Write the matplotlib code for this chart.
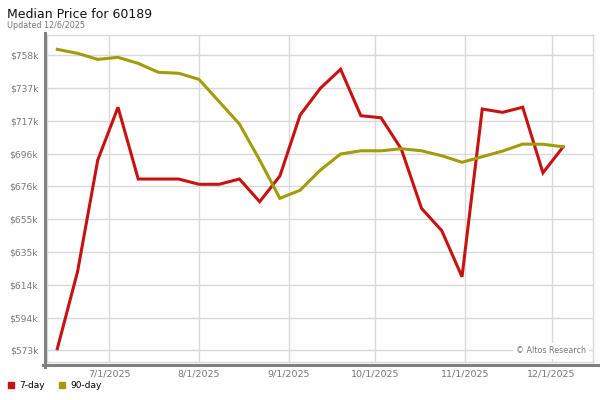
import matplotlib
matplotlib.use('Agg')
import matplotlib.pyplot as plt
from matplotlib.lines import Line2D
import pandas as pd

# weekly sample dates
dates = pd.to_datetime([
    '2025-06-13', '2025-06-20', '2025-06-27', '2025-07-04', '2025-07-11', '2025-07-18',
    '2025-07-25', '2025-08-01', '2025-08-08', '2025-08-15', '2025-08-22', '2025-08-29',
    '2025-09-05', '2025-09-12', '2025-09-19', '2025-09-26', '2025-10-03', '2025-10-10',
    '2025-10-17', '2025-10-24', '2025-10-31', '2025-11-07', '2025-11-14', '2025-11-21',
    '2025-11-28', '2025-12-05'])

# median price, thousands of dollars
seven_day = [574.0, 622.3, 692.3, 725.4, 680.4, 680.4, 680.4, 677.1, 677.1, 680.4,
             666.2, 682.3, 720.5, 737.3, 749.2, 720.1, 718.8, 699.2, 662.0, 648.0,
             619.1, 724.3, 722.2, 725.4, 684.3, 700.6]
ninety_day = [761.7, 759.2, 755.4, 756.7, 752.9, 747.3, 746.7, 742.9, 728.9, 714.9,
              692.3, 668.3, 673.4, 686.0, 696.1, 698.1, 698.1, 699.4, 698.1, 695.0,
              690.9, 694.4, 697.9, 702.3, 702.2, 700.6]

y_ticks = [573.0, 593.56, 614.11, 634.67, 655.22, 675.78, 696.33, 716.89, 737.44, 758.0]
y_labels = ['$573k', '$594k', '$614k', '$635k', '$655k', '$676k', '$696k', '$717k', '$737k', '$758k']
x_ticks = pd.to_datetime(['2025-07-01', '2025-08-01', '2025-09-01', '2025-10-01', '2025-11-01', '2025-12-01'])
x_labels = ['7/1/2025', '8/1/2025', '9/1/2025', '10/1/2025', '11/1/2025', '12/1/2025']

W, H = 600., 400.
fig = plt.figure(figsize=(6, 4), dpi=100)
ax = fig.add_axes([47.3/W, 1-362.3/H, (593.3-47.3)/W, (362.3-35)/H])

ax.plot(dates, seven_day, color='#c81212', lw=2.2, label='7-day', solid_joinstyle='miter', zorder=3)
ax.plot(dates, ninety_day, color='#a09c0a', lw=2.2, label='90-day', solid_joinstyle='miter', zorder=3)

ax.set_xlim(pd.Timestamp('2025-06-09 13:00'), pd.Timestamp('2025-12-15 10:00'))
ax.set_ylim(565.5, 770.7)
ax.set_yticks(y_ticks)
ax.set_yticklabels(y_labels)
ax.set_xticks(x_ticks)
ax.set_xticklabels(x_labels)
ax.grid(True, color='#d9d9d9', lw=1)
ax.set_axisbelow(True)
ax.tick_params(length=0, labelcolor='#777777', labelsize=6.8)
ax.tick_params(axis='y', pad=6.5, labelsize=6.6)
ax.tick_params(axis='x', pad=5.0)
for s in ax.spines.values():
    s.set_color('#d9d9d9')
    s.set_linewidth(1)

# heavy gray frame on left and bottom
fig.add_artist(Line2D([45.3/W, 45.3/W], [1-33/H, 1-366.7/H], color='#808080', lw=2.2, transform=fig.transFigure))
fig.add_artist(Line2D([43/W, 1.0], [1-365.2/H, 1-365.2/H], color='#808080', lw=2.2, transform=fig.transFigure))

ax.text(0.9866, 0.035, '\u00a9 Altos Research', transform=ax.transAxes, ha='right', va='center',
        fontsize=5.8, color='#777777', zorder=4,
        bbox=dict(facecolor='white', edgecolor='none', pad=2.5))

fig.text(7/W, 1-18.3/H, 'Median Price for 60189', fontsize=9, va='baseline', color='#111111')
fig.text(7/W, 1-27.7/H, 'Updated 12/6/2025', fontsize=5.8, va='baseline', color='#777777')

handles = [Line2D([], [], ls='none', marker='s', markersize=4.5, color=l.get_color()) for l in ax.get_lines()]
fig.legend(handles, ['7-day', '90-day'], loc='center left', bbox_to_anchor=(5/W, 1-386/H),
           ncol=2, frameon=False, fontsize=6.5, handlelength=0.8, handletextpad=0.5,
           columnspacing=1.5, borderaxespad=0, borderpad=0.3)

fig.savefig('out.png', dpi=100)
